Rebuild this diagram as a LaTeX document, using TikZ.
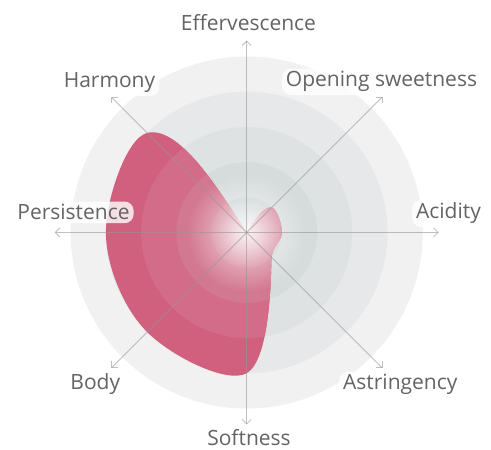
\documentclass[tikz,border=0pt]{standalone}
\usepackage{fontspec}
\setmainfont{Open Sans}
\usetikzlibrary{arrows.meta,fadings}
\definecolor{bandA}{RGB}{241,241,241}
\definecolor{bandB}{RGB}{231,232,233}
\definecolor{bandC}{RGB}{223,226,227}
\definecolor{bandD}{RGB}{214,219,220}
\definecolor{bandE}{RGB}{202,210,210}
\definecolor{redB}{RGB}{208,96,126}
\definecolor{redC}{RGB}{210,108,136}
\definecolor{redD}{RGB}{211,120,145}
\definecolor{redE}{RGB}{212,130,152}
\definecolor{labelgrey}{RGB}{100,100,100}
\definecolor{axisgrey}{RGB}{150,150,150}
\pgfdeclareradialshading{glowshade}{\pgfpointorigin}{color(0bp)=(pgftransparent!0); color(6bp)=(pgftransparent!25); color(14bp)=(pgftransparent!65); color(25bp)=(pgftransparent!100); color(50bp)=(pgftransparent!100)}
\pgfdeclarefading{glowfade}{\pgfuseshading{glowshade}}
\begin{document}
\begin{tikzpicture}[x=1pt,y=1pt,
  lbl/.style={font=\fontsize{21}{25}\selectfont, text=labelgrey, fill=white, fill opacity=0.8, text opacity=1, rounded corners=9pt, inner xsep=4pt, inner ysep=3pt, anchor=base},
  axisline/.style={draw=axisgrey, draw opacity=0.6, line width=0.8pt, -{Straight Barb[length=4.5pt,width=9pt]}}]
\useasboundingbox (0,0) rectangle (491,450);
\fill[white] (0,0) rectangle (491,450);
\coordinate (C) at (246.7,217.5);
% grid bands
\fill[bandA] (C) circle (176);
\fill[bandB] (C) circle (140.8);
\fill[bandC] (C) circle (105.6);
\fill[bandD] (C) circle (70.4);
\fill[bandE] (C) circle (35.2);
% data shape
\begin{scope}
\clip[shift={(C)}] (0,0) .. controls (7,10) and (16,26) .. (24.89,24.89)
  .. controls (30.11,23.85) and (35.2,8.30) .. (35.2,0)
  .. controls (35.2,-8.30) and (25.5,-14) .. (24.89,-24.89)
  .. controls (24,-50) and (23,-127) .. (0,-140.8)
  .. controls (-20.85,-151.74) and (-76.09,-123.03) .. (-99.56,-99.56)
  .. controls (-123.03,-76.09) and (-140.8,-33.19) .. (-140.8,0)
  .. controls (-140.8,33.19) and (-120.3,94.5) .. (-99.56,99.56)
  .. controls (-65,108) and (-22,32) .. (0,0) -- cycle;
\fill[redB] (C) circle (200);
\fill[redC] (C) circle (105.6);
\fill[redD] (C) circle (70.4);
\fill[redE] (C) circle (35.2);
\end{scope}
% glow
\fill[white, fill opacity=0.9, path fading=glowfade] (C) circle (60);
% axes
\coordinate (tEff) at ([shift={(90:192)}]C);
\coordinate (tOpen) at ([shift={(45:192)}]C);
\coordinate (tAcid) at ([shift={(0:192)}]C);
\coordinate (tAstr) at ([shift={(-45:192)}]C);
\coordinate (tSoft) at ([shift={(-90:192)}]C);
\coordinate (tBody) at ([shift={(-135:192)}]C);
\coordinate (tPers) at ([shift={(180:192)}]C);
\coordinate (tHarm) at ([shift={(135:192)}]C);
\foreach \t in {tEff,tOpen,tAcid,tAstr,tSoft,tBody,tPers,tHarm}
  \draw[axisline] (C) -- (\t);
% labels
\node[lbl] (effer) at (248.5,419) {Effervescence};
\node[lbl] (opening) at (381.5,363) {Opening sweetness};
\node[lbl] (acid) at (448.5,231) {Acidity};
\node[lbl] (astr) at (400.3,60) {Astringency};
\node[lbl, inner ysep=1pt] (soft) at (249,4.5) {Softness};
\node[lbl] (body) at (95.3,60) {Body};
\node[lbl] (pers) at (73.5,230) {Persistence};
\node[lbl] (harm) at (109.5,362) {Harmony};
\end{tikzpicture}
\end{document}
